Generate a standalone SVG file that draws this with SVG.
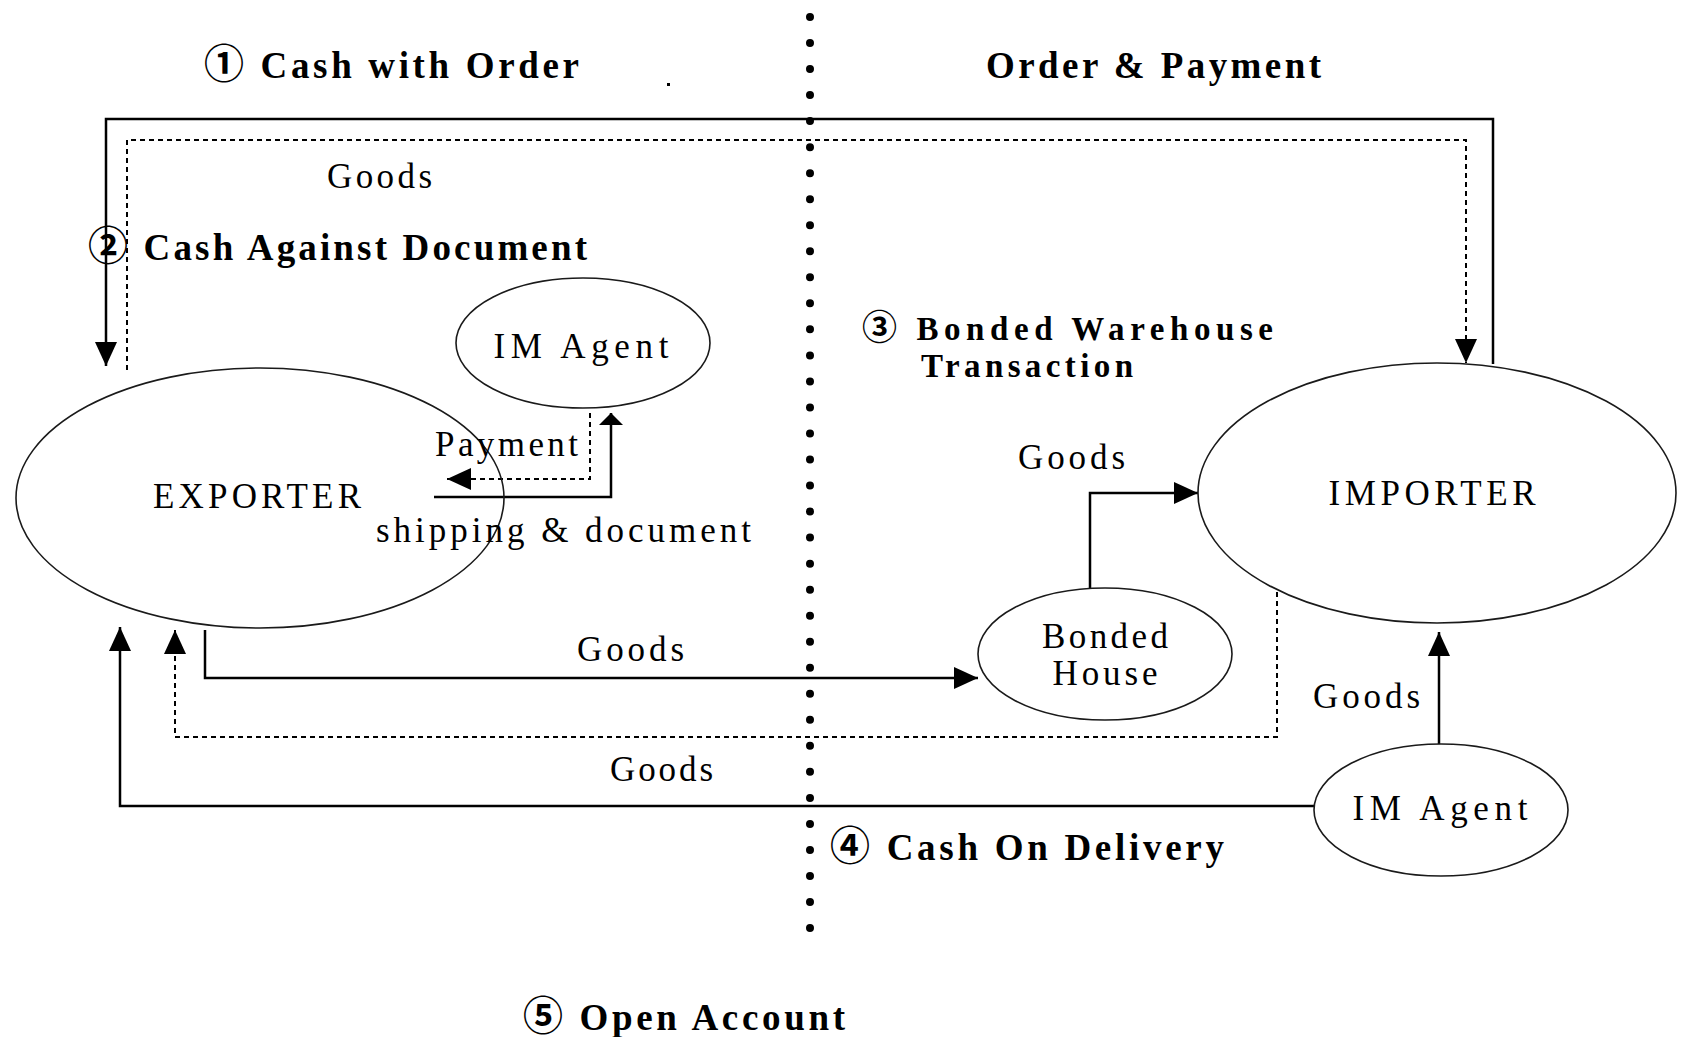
<svg xmlns="http://www.w3.org/2000/svg" width="1682" height="1037" viewBox="0 0 1682 1037">
<style>
.bg{fill:#fff}
.node{fill:none;stroke:#1a1a1a;stroke-width:1.6}
.lbl{font-family:"Liberation Serif","Times New Roman","Noto Sans CJK JP",serif;font-size:35px;fill:#000}
.ttl{font-family:"Liberation Serif","Times New Roman","Noto Sans CJK JP",serif;font-size:37px;font-weight:bold;fill:#000}
.ttl3{font-size:33px}
.num{font-size:40px}
.num3{font-size:35px}
.mid{text-anchor:middle}
.solid{fill:none;stroke:#000;stroke-width:2.5}
.dot{fill:none;stroke:#000;stroke-width:2;stroke-dasharray:5 4}
.divider{fill:none;stroke:#000;stroke-width:8;stroke-linecap:round;stroke-dasharray:0 26.03}
</style>
<defs>
<marker id="arr" markerUnits="userSpaceOnUse" markerWidth="26" markerHeight="24" refX="24" refY="11" orient="auto">
<path d="M0,0 L24,11 L0,22 z" fill="#000"/>
</marker>
<marker id="arrFlat" markerUnits="userSpaceOnUse" markerWidth="16" markerHeight="26" refX="14" refY="12" orient="auto">
<path d="M2,0 L14,12 L2,24 z" fill="#000"/>
</marker>
</defs>
<rect class="bg" x="0" y="0" width="1682" height="1037"/>

<g id="divider">
<line class="divider" x1="810" y1="17" x2="810" y2="929"/>
</g>

<g id="connectors">
<path class="solid" d="M1493,364 V119 H106 V366" marker-end="url(#arr)"/>
<path class="dot" d="M127,370 V140 H1466 V363" marker-end="url(#arr)"/>
<path class="solid" d="M434,497 H611 V413" marker-end="url(#arrFlat)"/>
<path class="dot" d="M590,413 V479 H447" marker-end="url(#arr)"/>
<path class="solid" d="M205,630 V678 H978" marker-end="url(#arr)"/>
<path class="solid" d="M1090,588 V493 H1198" marker-end="url(#arr)"/>
<path class="dot" d="M1277,592 V737 H175 V630" marker-end="url(#arr)"/>
<path class="solid" d="M1314,806 H120 V627" marker-end="url(#arr)"/>
<path class="solid" d="M1439,744 V632" marker-end="url(#arr)"/>
</g>

<g id="exporter">
<ellipse class="node" cx="260" cy="498" rx="244" ry="130"/>
<text class="lbl mid" x="257" y="508" textLength="208">EXPORTER</text>
</g>

<g id="im-agent-top">
<ellipse class="node" cx="583" cy="343" rx="127" ry="65"/>
<text class="lbl mid" x="581" y="358" textLength="175">IM Agent</text>
</g>

<g id="bonded-house">
<ellipse class="node" cx="1105" cy="654" rx="127" ry="66"/>
<text class="lbl mid" x="1105" y="648" textLength="126">Bonded</text>
<text class="lbl mid" x="1105" y="685" textLength="105">House</text>
</g>

<g id="importer">
<ellipse class="node" cx="1437" cy="493" rx="239" ry="130"/>
<text class="lbl mid" x="1432" y="505" textLength="207">IMPORTER</text>
</g>

<g id="im-agent-bottom">
<ellipse class="node" cx="1441" cy="810" rx="127" ry="66"/>
<text class="lbl mid" x="1440" y="820" textLength="175">IM Agent</text>
</g>

<g id="labels">
<text class="ttl" x="204" y="78" textLength="375"><tspan class="num">①</tspan> Cash with Order</text>
<rect x="667" y="83" width="3" height="3" fill="#000"/>
<text class="ttl" x="986" y="78" textLength="335">Order &amp; Payment</text>
<text class="lbl" x="327" y="188" textLength="105">Goods</text>
<text class="ttl" x="88" y="260" textLength="499"><tspan class="num">②</tspan> Cash Against Document</text>
<text class="ttl ttl3" x="862" y="340" textLength="411"><tspan class="num3">③</tspan> Bonded Warehouse</text>
<text class="ttl ttl3" x="921" y="377" textLength="212">Transaction</text>
<text class="lbl" x="435" y="456" textLength="143">Payment</text>
<text class="lbl" x="376" y="542" textLength="375">shipping &amp; document</text>
<text class="lbl" x="1018" y="469" textLength="107">Goods</text>
<text class="lbl" x="577" y="661" textLength="107">Goods</text>
<text class="lbl" x="1313" y="708" textLength="107">Goods</text>
<text class="lbl" x="610" y="781" textLength="103">Goods</text>
<text class="ttl" x="830" y="860" textLength="394"><tspan class="num">④</tspan> Cash On Delivery</text>
<text class="ttl" x="523" y="1030" textLength="322"><tspan class="num">⑤</tspan> Open Account</text>
</g>
</svg>
